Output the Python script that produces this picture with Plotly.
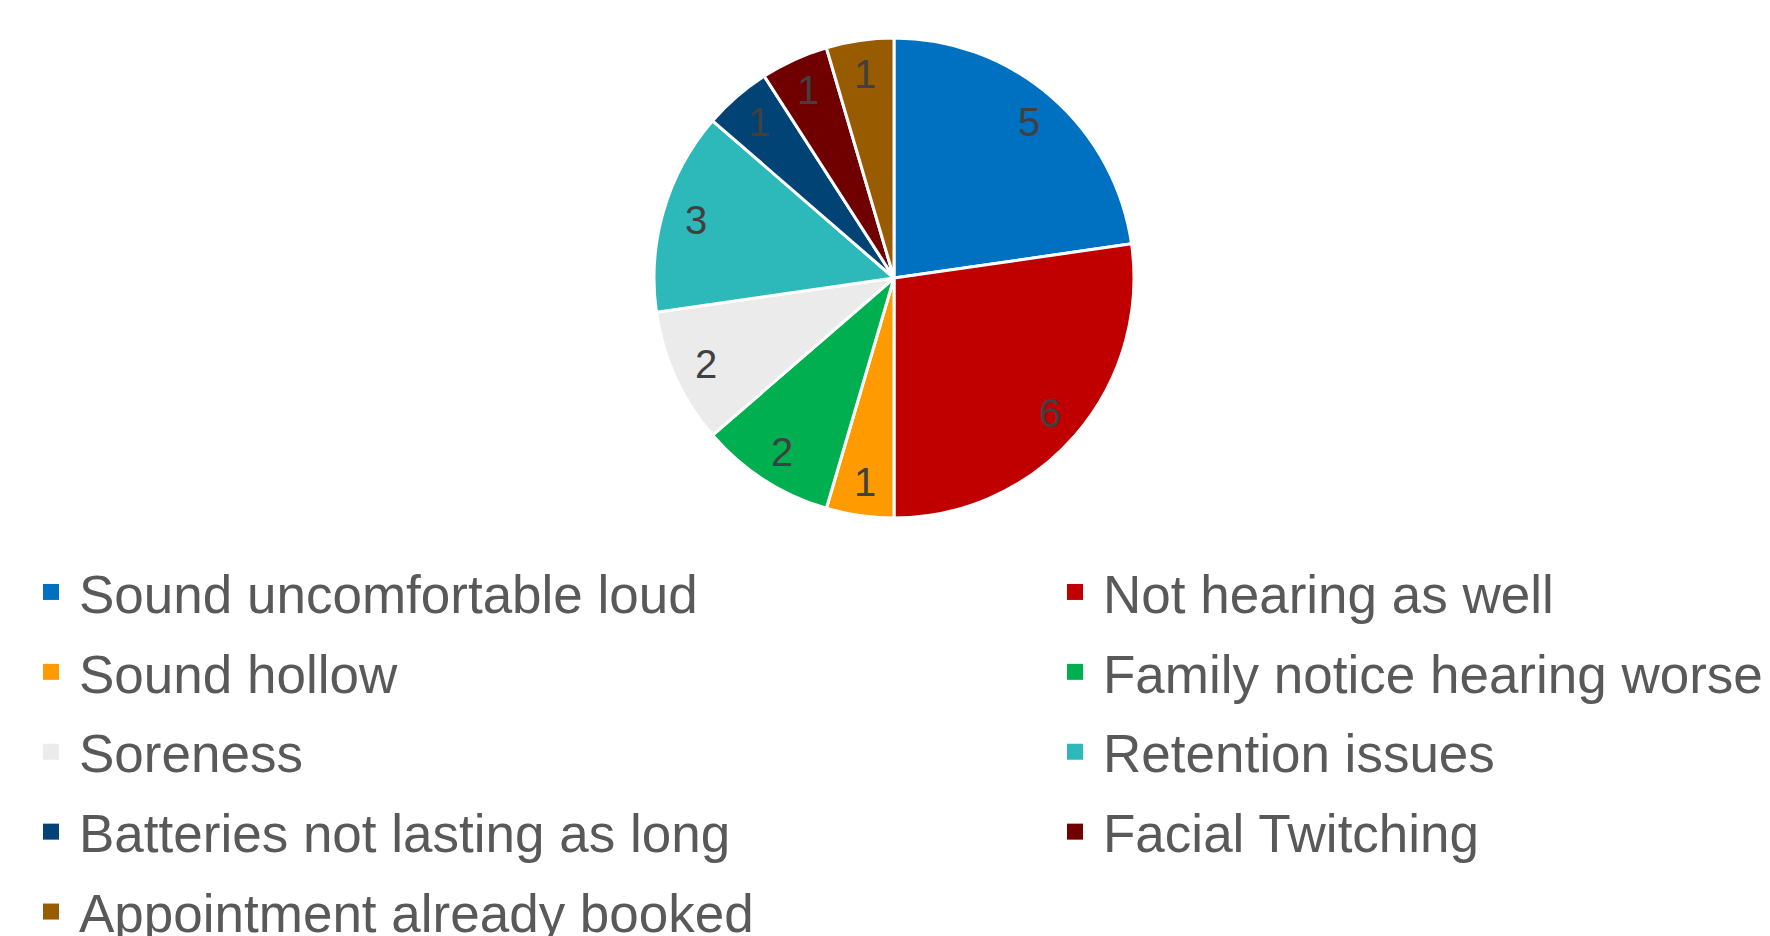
import math
import plotly.graph_objects as go

# Reported hearing-aid issues
labels = [
    "Sound uncomfortable loud",
    "Not hearing as well",
    "Sound hollow",
    "Family notice hearing worse",
    "Soreness",
    "Retention issues",
    "Batteries not lasting as long",
    "Facial Twitching",
    "Appointment already booked",
]
counts = [5, 6, 1, 2, 2, 3, 1, 1, 1]
colors = [
    "#0070C0", "#C00000", "#FF9A00", "#00B050", "#EBEBEB",
    "#2DB9B9", "#004374", "#700000", "#985B00",
]

W, H = 1770, 936
cx, cy, r = 894, 278, 240
FONT = "Liberation Sans, Arial, sans-serif"

fig = go.Figure()

fig.add_trace(
    go.Pie(
        labels=labels,
        values=counts,
        sort=False,
        direction="clockwise",
        rotation=0,
        marker=dict(colors=colors, line=dict(color="white", width=3)),
        textinfo="none",
        domain=dict(x=[(cx - r) / W, (cx + r) / W],
                    y=[1 - (cy + r) / H, 1 - (cy - r) / H]),
        hoverinfo="label+value",
        showlegend=False,
    )
)

# Data labels near the rim, on each slice's bisector
total = sum(counts)
start = 0.0
for v in counts:
    mid = (start + v / 2) / total * 2 * math.pi
    start += v
    px = cx + 0.86 * r * math.sin(mid)
    py = cy - 0.86 * r * math.cos(mid)
    fig.add_annotation(
        x=px / W, y=1 - py / H, xref="paper", yref="paper",
        text=str(v), showarrow=False,
        font=dict(size=40, color="#404040", family=FONT),
        xanchor="center", yanchor="middle",
    )

# Two-column legend: entries alternate between the left and right columns
for i, (lab, col) in enumerate(zip(labels, colors)):
    fig.add_trace(
        go.Scatter(
            x=[None], y=[None], mode="markers", name=lab,
            marker=dict(symbol="square", size=18, color=col),
            legend="legend" if i % 2 == 0 else "legend2",
            legendgroup=lab,
            hoverinfo="skip",
        )
    )

legend_common = dict(
    orientation="v",
    yanchor="top",
    y=1 - 551 / H,
    xanchor="left",
    font=dict(size=53, color="#595959", family=FONT),
    itemwidth=46,
    tracegroupgap=8,
    traceorder="grouped",
    bgcolor="rgba(0,0,0,0)",
    itemclick=False,
    itemdoubleclick=False,
)

fig.update_layout(
    width=W,
    height=H,
    margin=dict(l=0, r=0, t=0, b=0, autoexpand=False),
    paper_bgcolor="white",
    plot_bgcolor="white",
    font=dict(family=FONT, color="#595959"),
    showlegend=True,
    xaxis=dict(visible=False),
    yaxis=dict(visible=False),
    legend=dict(x=23 / W, **legend_common),
    legend2=dict(x=1047 / W, **legend_common),
)

fig.write_html("out.html")
